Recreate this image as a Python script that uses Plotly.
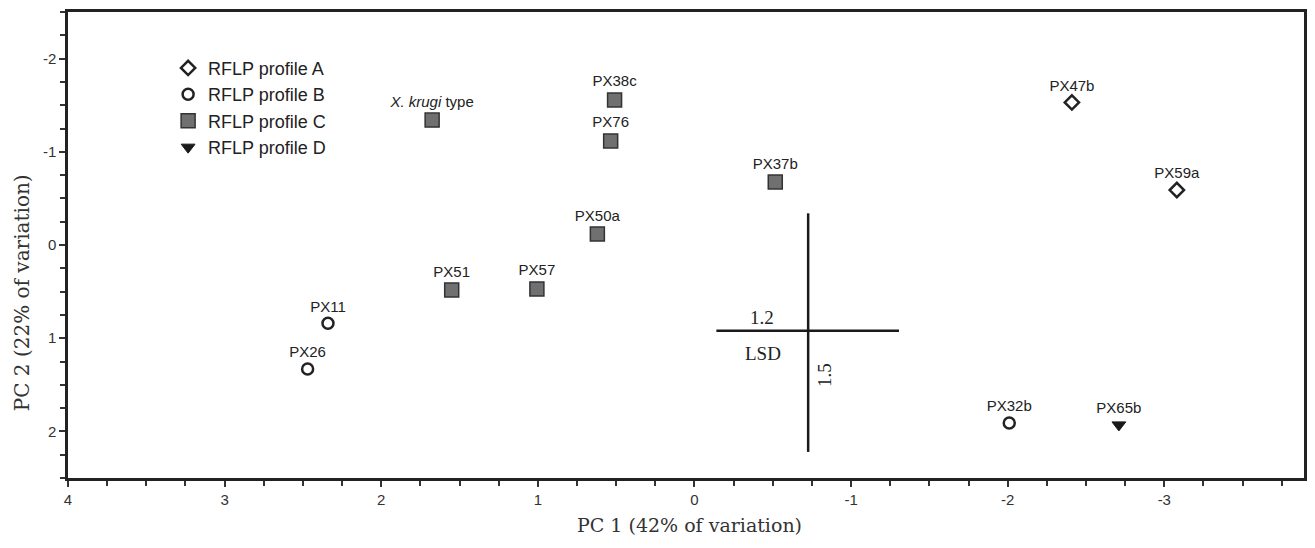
import plotly.graph_objects as go

# ---- data ----
a_names = ["PX47b", "PX59a"]
a_x = [-2.41, -3.08]
a_y = [-1.53, -0.59]

b_names = ["PX11", "PX26", "PX32b"]
b_x = [2.34, 2.47, -2.01]
b_y = [0.84, 1.33, 1.91]

c_names = ["<i>X. krugi</i> type", "PX38c", "PX76", "PX37b", "PX50a", "PX51", "PX57"]
c_x = [1.675, 0.51, 0.535, -0.516, 0.62, 1.55, 1.006]
c_y = [-1.34, -1.556, -1.116, -0.676, -0.118, 0.483, 0.472]

d_names = ["PX65b"]
d_x = [-2.71]
d_y = [1.93]

# LSD cross
lsd_h_x = [-0.14, -1.306]
lsd_h_y = [0.92, 0.92]
lsd_v_x = [-0.726, -0.726]
lsd_v_y = [-0.34, 2.22]

x_ticks = [4, 3, 2, 1, 0, -1, -2, -3]
y_ticks = [-2, -1, 0, 1, 2]

sans = "Liberation Sans, Arial, sans-serif"
serif = "Liberation Serif, Times New Roman, serif"
wide_serif = "DejaVu Serif, serif"
lbl_font = dict(family=sans, size=15, color="#222")

fig = go.Figure()

fig.add_trace(go.Scatter(
    x=a_x, y=a_y, mode="markers+text", text=a_names, textposition="top center",
    textfont=lbl_font, name="RFLP profile A", legendgroup="A",
    marker=dict(symbol="diamond-open", size=11, color="#222", line=dict(width=2.5, color="#222")),
))
fig.add_trace(go.Scatter(
    x=b_x, y=b_y, mode="markers+text", text=b_names, textposition="top center",
    textfont=lbl_font, name="RFLP profile B", legendgroup="B",
    marker=dict(symbol="circle-open", size=11, color="#222", line=dict(width=2.5, color="#222")),
))
fig.add_trace(go.Scatter(
    x=c_x, y=c_y, mode="markers+text", text=c_names, textposition="top center",
    textfont=lbl_font, name="RFLP profile C", legendgroup="C",
    marker=dict(symbol="square", size=14, color="#707070", line=dict(width=1.5, color="#333")),
))
fig.add_trace(go.Scatter(
    x=d_x, y=d_y, mode="markers+text", text=d_names, textposition="top center",
    textfont=lbl_font, name="RFLP profile D", legendgroup="D",
    marker=dict(symbol="triangle-down", size=12, color="#1a1a1a", line=dict(width=1, color="#1a1a1a")),
))

for lx, ly in [(lsd_h_x, lsd_h_y), (lsd_v_x, lsd_v_y)]:
    fig.add_trace(go.Scatter(x=lx, y=ly, mode="lines", showlegend=False,
                             line=dict(color="#1a1a1a", width=2.5), hoverinfo="skip"))

annos = [
    dict(x=-0.43, y=0.78, text="1.2", font=dict(family=serif, size=19, color="#222")),
    dict(x=-0.44, y=1.16, text="LSD", font=dict(family=serif, size=19, color="#222")),
    dict(x=-0.83, y=1.39, text="1.5", textangle=-90, font=dict(family=serif, size=19, color="#222")),
    dict(x=0.503, y=-0.101, xref="paper", yref="paper", text="PC 1 (42% of variation)",
         yanchor="middle", borderpad=0, font=dict(family=wide_serif, size=19, color="#333")),
    dict(x=-0.037, y=0.397, xref="paper", yref="paper", text="PC 2 (22% of variation)",
         textangle=-90, xanchor="center", yanchor="middle",
         font=dict(family=wide_serif, size=20, color="#333")),
]
for a in annos:
    a.setdefault("showarrow", False)
    fig.add_annotation(**a)

axis_common = dict(
    showline=True, linecolor="#222", linewidth=2.5, mirror=True,
    ticks="outside", ticklen=6, tickwidth=1.5, tickcolor="#333",
    showgrid=False, zeroline=False,
    tickfont=dict(family=sans, size=15, color="#333"),
    minor=dict(ticks="outside", ticklen=5, tickwidth=1.5, tickcolor="#333", dtick=0.25, showgrid=False),
)

fig.update_xaxes(range=[4, -3.892], tickvals=x_ticks, ticktext=[str(v) for v in x_ticks], **axis_common)
fig.update_yaxes(range=[2.5, -2.5], tickvals=y_ticks, ticktext=[str(v) for v in y_ticks], **axis_common)

fig.update_layout(
    width=1299, height=532,
    margin=dict(l=60, r=0, t=4, b=62),
    plot_bgcolor="white", paper_bgcolor="white",
    legend=dict(x=0.081, y=0.919, xanchor="left", yanchor="top",
                font=dict(family=sans, size=18, color="#222"),
                bgcolor="rgba(0,0,0,0)", traceorder="grouped", tracegroupgap=0,
                itemwidth=30),
    showlegend=True,
)

fig.write_html("out.html")
